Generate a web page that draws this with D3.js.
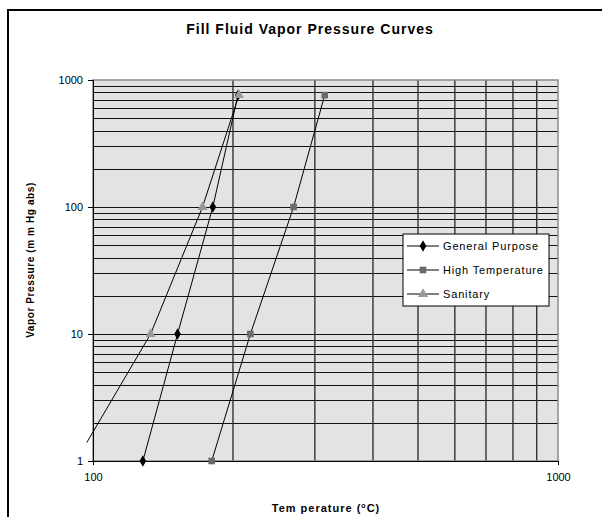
<!DOCTYPE html>
<html><head><meta charset="utf-8">
<script src="https://cdn.jsdelivr.net/npm/d3@7"></script>
<style>body{margin:0;background:#fff}svg{display:block}text{font-family:Arial,"Liberation Sans",sans-serif}</style>
</head><body>
<script>
const title = "Fill Fluid Vapor Pressure Curves";
const xLabel = "Tem perature (";
const yLabel = "Vapor Pressure (m m Hg abs)";
const seriesNames = ["General Purpose", "High Temperature", "Sanitary"];
const gpTemp = [128, 152, 181, 205];
const gpPress = [1, 10, 100, 760];
const htTemp = [180, 218, 270, 315];
const htPress = [1, 10, 100, 760];
const sanTemp = [97, 133, 172, 206];
const sanPress = [1.4, 10, 100, 760];
const xTicks = [100, 1000];
const yTicks = [1, 10, 100, 1000];

const W = 602, H = 517;
const svg = d3.select("body").append("svg").attr("width", W).attr("height", H);
const L = 93, R = 558, T = 80, B = 461;
const x = d3.scaleLog().domain([100, 1000]).range([L, R]);
const y = d3.scaleLog().domain([1, 1000]).range([B, T]);

// outer border
svg.append("rect").attr("x", 8).attr("y", 10).attr("width", 620).attr("height", 540)
  .attr("fill", "none").attr("stroke", "#000").attr("stroke-width", 2);

// title
svg.append("text").attr("x", 310).attr("y", 34).attr("text-anchor", "middle")
  .attr("font-size", 14).attr("font-weight", "bold").attr("letter-spacing", 1).text(title);

// plot bg
svg.append("rect").attr("x", L).attr("y", T).attr("width", R - L).attr("height", B - T).attr("fill", "#e3e3e3");

// gridlines
const yGrid = [];
for (let d = 1; d < 1000; d *= 10) for (let k = 1; k < 10; k++) yGrid.push(d * k);
svg.append("g").selectAll("line").data(yGrid.filter(v => v > 1 && v < 1000)).join("line")
  .attr("x1", L).attr("x2", R).attr("y1", d => Math.round(y(d)) + 0.5).attr("y2", d => Math.round(y(d)) + 0.5)
  .attr("stroke", "#111").attr("stroke-width", 1);
const xGrid = [200, 300, 400, 500, 600, 700, 800, 900];
svg.append("g").selectAll("line").data(xGrid).join("line")
  .attr("y1", T).attr("y2", B).attr("x1", d => x(d)).attr("x2", d => x(d))
  .attr("stroke", "#333").attr("stroke-width", 1.4);

// plot border
svg.append("rect").attr("x", L).attr("y", T).attr("width", R - L).attr("height", B - T)
  .attr("fill", "none").attr("stroke", "#8a8a8a").attr("stroke-width", 1.5);

// axes
const yAxis = svg.append("g").attr("transform", `translate(${L},0)`)
  .call(d3.axisLeft(y).tickValues(yTicks).tickFormat(d3.format("d")).tickSize(5).tickPadding(5));
const xAxis = svg.append("g").attr("transform", `translate(0,${B})`)
  .call(d3.axisBottom(x).tickValues(xTicks).tickFormat(d3.format("d")).tickSize(4).tickPadding(8));
[yAxis, xAxis].forEach(a => {
  a.select(".domain").attr("stroke", "#000");
  a.selectAll(".tick line").attr("stroke", "#000");
  a.selectAll("text").attr("font-size", 11).attr("fill", "#000").attr("font-family", "Arial, 'Liberation Sans', sans-serif");
});

// axis labels
const xl = svg.append("text").attr("x", 326).attr("y", 512).attr("text-anchor", "middle")
  .attr("font-size", 11).attr("font-weight", "bold").attr("letter-spacing", 1);
xl.append("tspan").text(xLabel);
xl.append("tspan").attr("font-size", 7).attr("dy", -4).text("o");
xl.append("tspan").attr("dy", 4).text("C)");
svg.append("text").attr("transform", "translate(34,260) rotate(-90)").attr("text-anchor", "middle")
  .attr("font-size", 10).attr("font-weight", "bold").attr("letter-spacing", 0.6).text(yLabel);

// series
const series = [
  {name: seriesNames[0], t: gpTemp, p: gpPress, shape: d3.symbolDiamond, color: "#000", size: 38},
  {name: seriesNames[1], t: htTemp, p: htPress, shape: d3.symbolSquare, color: "#6b6b6b", size: 44},
  {name: seriesNames[2], t: sanTemp, p: sanPress, shape: d3.symbolTriangle, color: "#999", size: 44}
];
const line = d3.line().x(d => x(d[0])).y(d => y(d[1]));
series.forEach(s => {
  const pts = s.t.map((t, i) => [t, s.p[i]]);
  svg.append("path").attr("d", line(pts)).attr("fill", "none").attr("stroke", "#000").attr("stroke-width", 1);
  svg.append("g").selectAll("path").data(pts.filter(d => d[0] >= 100 && d[1] >= 1)).join("path")
    .attr("transform", d => `translate(${x(d[0])},${y(d[1])})`)
    .attr("d", d3.symbol().type(s.shape).size(s.size)).attr("fill", s.color);
});

// legend
const lg = svg.append("g").attr("transform", "translate(403,234)");
lg.append("rect").attr("width", 146).attr("height", 72).attr("fill", "#fff").attr("stroke", "#000").attr("stroke-width", 1);
series.forEach((s, i) => {
  const yy = 12 + i * 24;
  lg.append("line").attr("x1", 4).attr("x2", 36).attr("y1", yy).attr("y2", yy).attr("stroke", "#000");
  lg.append("path").attr("transform", `translate(20,${yy})`).attr("d", d3.symbol().type(s.shape).size(s.size)).attr("fill", s.color);
  lg.append("text").attr("x", 40).attr("y", yy + 4).attr("font-size", 11).attr("letter-spacing", 0.85).text(s.name);
});
</script>
</body></html>
